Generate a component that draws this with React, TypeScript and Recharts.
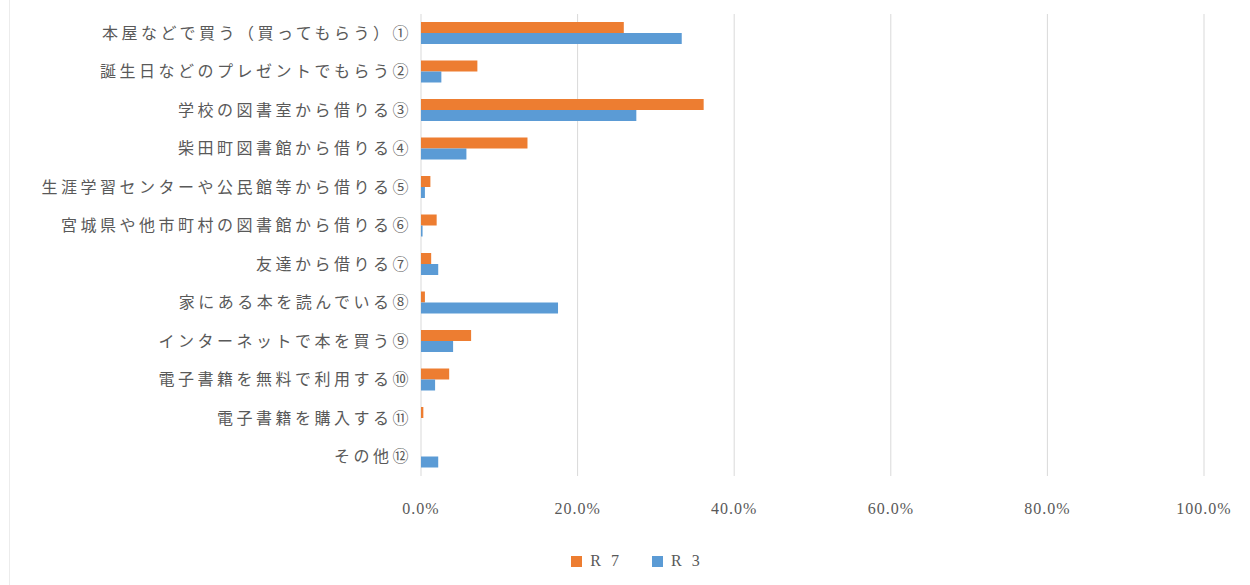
import { Bar, BarChart, CartesianGrid, Legend, XAxis, YAxis } from "recharts";

// Where children get their books: share of answers, R7 survey vs R3 survey (%)
const categories = [
  "本屋などで買う（買ってもらう）①",
  "誕生日などのプレゼントでもらう②",
  "学校の図書室から借りる③",
  "柴田町図書館から借りる④",
  "生涯学習センターや公民館等から借りる⑤",
  "宮城県や他市町村の図書館から借りる⑥",
  "友達から借りる⑦",
  "家にある本を読んでいる⑧",
  "インターネットで本を買う⑨",
  "電子書籍を無料で利用する⑩",
  "電子書籍を購入する⑪",
  "その他⑫",
];
const r7Values = [25.9, 7.2, 36.1, 13.6, 1.2, 2.0, 1.3, 0.5, 6.4, 3.6, 0.3, 0];
const r3Values = [33.3, 2.6, 27.5, 5.8, 0.5, 0.2, 2.2, 17.5, 4.1, 1.8, 0, 2.2];
const xTicks = [0, 20, 40, 60, 80, 100];

const seriesOrder = ["r7", "r3"];
const seriesNames: Record<string, string> = { r7: "R 7", r3: "R 3" };
const ORANGE = "#ED7D31";
const BLUE = "#5B9BD5";
const TEXT = "#595959";
const SERIF = '"Liberation Serif", "Noto Sans CJK JP", serif';

const rows = categories.map((name, i) => ({
  name,
  r7: r7Values[i],
  r3: r3Values[i],
}));

// legend keeps series order (R7 first) instead of the default alphabetical sort
function LegendRow({ payload }: { payload?: any[] }) {
  const items = [...(payload ?? [])].sort(
    (a, b) => seriesOrder.indexOf(a.dataKey) - seriesOrder.indexOf(b.dataKey)
  );
  return (
    <div
      style={{
        display: "flex",
        justifyContent: "center",
        alignItems: "center",
        gap: 30,
        paddingLeft: 70,
        fontFamily: SERIF,
        fontSize: 16,
        color: TEXT,
        lineHeight: "18px",
      }}
    >
      {items.map((p) => (
        <span key={p.dataKey} style={{ display: "flex", alignItems: "center", gap: 8 }}>
          <span style={{ width: 11, height: 11, background: p.color, display: "inline-block" }} />
          <span style={{ letterSpacing: 3 }}>{p.value}</span>
        </span>
      ))}
    </div>
  );
}

export default function App() {
  return (
    <div
      style={{
        position: "fixed",
        left: 0,
        top: 0,
        width: 1250,
        height: 585,
        background: "#fff",
      }}
    >
      <div
        style={{
          position: "absolute",
          left: 9,
          top: 0,
          width: 1,
          height: 585,
          background: "#ececec",
        }}
      />
      <BarChart
        width={1250}
        height={585}
        data={rows}
        layout="vertical"
        margin={{ top: 14, right: 46, bottom: 13, left: 0 }}
        barSize={11}
        barGap={0}
      >
        <CartesianGrid horizontal={false} stroke="#d9d9d9" />
        <XAxis
          type="number"
          domain={[0, 100]}
          ticks={xTicks}
          tickFormatter={(v: number) => `${v.toFixed(1)}%`}
          axisLine={false}
          tickLine={false}
          tickSize={0}
          tickMargin={27}
          height={76}
          tick={{ fill: TEXT, fontSize: 16, fontFamily: SERIF, letterSpacing: 1 }}
        />
        <YAxis
          type="category"
          dataKey="name"
          width={421}
          axisLine={false}
          tickLine={false}
          tickSize={0}
          tickMargin={9}
          interval={0}
          tick={{ fill: TEXT, fontSize: 16, fontFamily: SERIF, letterSpacing: 3.5 }}
        />
        <Legend verticalAlign="bottom" height={20} content={<LegendRow />} />
        <Bar dataKey="r7" name={seriesNames.r7} fill={ORANGE} isAnimationActive={false} />
        <Bar dataKey="r3" name={seriesNames.r3} fill={BLUE} isAnimationActive={false} />
      </BarChart>
    </div>
  );
}
